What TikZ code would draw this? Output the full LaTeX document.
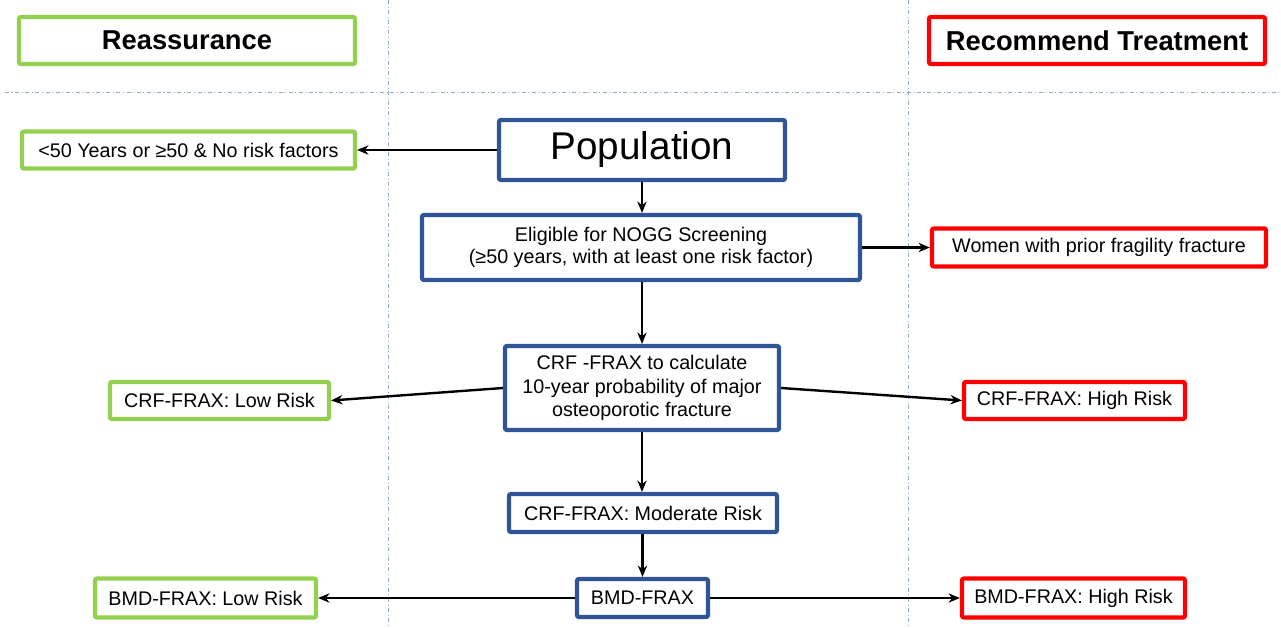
\documentclass[tikz,border=0pt]{standalone}
\usepackage{fontspec}
\setmainfont{Liberation Sans}
\usetikzlibrary{arrows.meta}
\definecolor{boxgreen}{HTML}{92D050}
\definecolor{boxred}{HTML}{FF0000}
\definecolor{boxblue}{HTML}{2F5597}
\definecolor{gridblue}{HTML}{8EA9DB}
\begin{document}
\begin{tikzpicture}[x=0.75pt, y=-0.75pt,
    flowbox/.style={draw, line width=3.2pt, rounded corners=1.5pt, fill=white, inner sep=0pt, align=center, font=\fontsize{14.8}{17}\selectfont},
    greenbox/.style={flowbox, draw=boxgreen},
    redbox/.style={flowbox, draw=boxred},
    bluebox/.style={flowbox, draw=boxblue},
    headbox/.style={font=\fontsize{20.5}{24}\selectfont\bfseries},
    arr/.style={-{Stealth[length=8.5pt,width=7pt]}, line width=1.8pt},
    gridline/.style={draw=gridblue, line width=0.6pt, dash dot}]
   	\useasboundingbox (0,0) rectangle (1281,628);
   	\draw[gridline] (388,0) -- (388,628);
   	\draw[gridline] (908,0) -- (908,628);
   	\draw[gridline] (5,92) -- (1281,92);
   	\node[greenbox, headbox, minimum width=252pt, minimum height=35.25pt] at (187,40.5) (reass) {Reassurance};
   	\node[redbox, headbox, minimum width=252pt, minimum height=35.25pt] at (1097,40.5) (recomm) {Recommend Treatment};
   	\node[bluebox, minimum width=214.5pt, minimum height=45pt, font=\fontsize{29}{34}\selectfont] at (642,150) (pop) {Population};
   	\node[greenbox, minimum width=249.75pt, minimum height=27.75pt] at (188.5,150) (young) {<50 Years or ≥50 \& No risk factors};
   	\node[bluebox, minimum width=328.5pt, minimum height=48.75pt] at (641,247.5) (elig) {Eligible for NOGG Screening\\(≥50 years, with at least one risk factor)};
   	\node[redbox, minimum width=250.5pt, minimum height=28.5pt] at (1099,247.5) (women) {Women with prior fragility fracture};
   	\node[bluebox, minimum width=205.5pt, minimum height=63pt, font=\fontsize{14.8}{17.6}\selectfont] at (642,388) (crf) {CRF -FRAX to calculate\\10-year probability of major\\osteoporotic fracture};
   	\node[greenbox, minimum width=164.25pt, minimum height=27.75pt] at (219.5,400.5) (crflow) {CRF-FRAX: Low Risk};
   	\node[redbox, minimum width=165.75pt, minimum height=27.75pt] at (1074.5,400.5) (crfhigh) {CRF-FRAX: High Risk};
   	\node[bluebox, minimum width=201pt, minimum height=28.5pt] at (643,513) (moderate) {CRF-FRAX: Moderate Risk};
   	\node[bluebox, minimum width=98.25pt, minimum height=28.5pt] at (642.5,598) (bmd) {BMD-FRAX};
   	\node[greenbox, minimum width=165.75pt, minimum height=29.25pt] at (205.5,598) (bmdlow) {BMD-FRAX: Low Risk};
   	\node[redbox, minimum width=167.25pt, minimum height=29.25pt] at (1073.5,598) (bmdhigh) {BMD-FRAX: High Risk};
   	\draw[arr] (pop.west) -- (young.east);
   	\draw[arr] (pop.south) -- (pop.south |- elig.north);
   	\draw[arr] (elig.east) -- (women.west);
   	\draw[arr] (crf.north |- elig.south) -- (crf.north);
   	\draw[arr] (crf.west) -- (crflow.east);
   	\draw[arr] (crf.east) -- (crfhigh.west);
   	\draw[arr] (crf.south) -- (crf.south |- moderate.north);
   	\draw[arr] (bmd.north |- moderate.south) -- (bmd.north);
   	\draw[arr] (bmd.west) -- (bmdlow.east);
   	\draw[arr] (bmd.east) -- (bmdhigh.west);
\end{tikzpicture}
\end{document}
